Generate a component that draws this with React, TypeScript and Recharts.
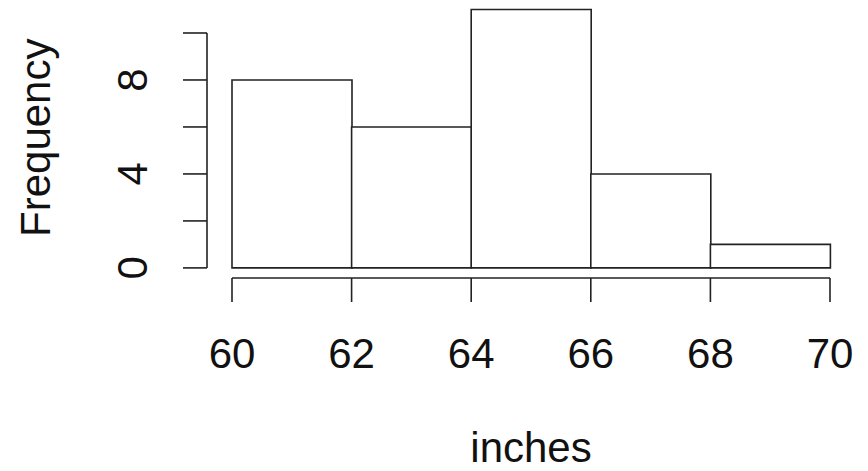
import React from 'react';
import { ComposedChart, Bar, XAxis, YAxis, ReferenceLine } from 'recharts';

const binLabels = ['60-62', '62-64', '64-66', '66-68', '68-70'];
const binStarts = [60, 62, 64, 66, 68];
const frequencies = [8, 6, 11, 4, 1];
const xTicks = [60, 62, 64, 66, 68, 70];
const yTicks = [0, 2, 4, 6, 8, 10];
const yTickLabels = ['0', '', '4', '', '8', ''];
const xTitle = 'inches';
const yTitle = 'Frequency';

const data = binLabels.map((bin, i) => ({ bin, start: binStarts[i], count: frequencies[i] }));

const FONT = '"Liberation Sans", Arial, Helvetica, sans-serif';
const INK = '#222';
const TEXT = '#111';
const FS = 42;
// R-style detached y axis line sits a little left of the first bin edge
const Y_AXIS_LINE_X = 59.582;

const YTick = (props: any) => {
  const { x, y, payload } = props;
  const label = yTickLabels[yTicks.indexOf(payload.value)];
  return (
    <g>
      <line x1={x - 49} x2={x - 25} y1={y} y2={y} stroke={INK} strokeWidth={1.6} />
      {label ? (
        <text
          transform={`translate(${x - 85.5},${y}) rotate(-90)`}
          textAnchor="middle"
          fontSize={FS}
          fontFamily={FONT}
          fill={TEXT}
        >
          {label}
        </text>
      ) : null}
    </g>
  );
};

const XTitle = (props: any) => {
  const vb = props.viewBox || {};
  return (
    <text
      x={vb.x + vb.width / 2}
      y={vb.y + vb.height - 9}
      textAnchor="middle"
      fontSize={FS}
      fontFamily={FONT}
      fill={TEXT}
    >
      {xTitle}
    </text>
  );
};

const YTitle = (props: any) => {
  const vb = props.viewBox || {};
  return (
    <text
      transform={`translate(${vb.x + 50},${vb.y + vb.height / 2 - 6}) rotate(-90)`}
      textAnchor="middle"
      fontSize={FS}
      fontFamily={FONT}
      fill={TEXT}
    >
      {yTitle}
    </text>
  );
};

export default function App() {
  return (
    <div style={{ position: 'absolute', left: 0, top: 0, width: 868, height: 471, background: '#fff' }}>
      <ComposedChart
        width={868}
        height={471}
        data={data}
        margin={{ top: 9.5, right: 38, bottom: 0, left: 0 }}
        barCategoryGap={0}
        barGap={0}
      >
        <XAxis xAxisId="cat" dataKey="bin" orientation="top" hide />
        <XAxis
          xAxisId="num"
          dataKey="start"
          type="number"
          domain={[60, 70]}
          ticks={xTicks}
          interval={0}
          height={193}
          tickSize={24}
          tickMargin={36}
          axisLine={{ stroke: INK, strokeWidth: 1.6 }}
          tickLine={{ stroke: INK, strokeWidth: 1.6 }}
          tick={{ fontSize: FS, fill: TEXT, fontFamily: FONT }}
          allowDataOverflow
          label={<XTitle />}
        />
        <YAxis
          yAxisId="y"
          type="number"
          domain={[-0.43, 11]}
          ticks={yTicks}
          interval={0}
          width={232}
          axisLine={false}
          tickLine={false}
          tickSize={0}
          tickMargin={0}
          tick={<YTick />}
          label={<YTitle />}
        />
        <ReferenceLine
          xAxisId="num"
          yAxisId="y"
          segment={[
            { x: Y_AXIS_LINE_X, y: yTicks[0] },
            { x: Y_AXIS_LINE_X, y: yTicks[yTicks.length - 1] },
          ]}
          ifOverflow="visible"
          stroke={INK}
          strokeWidth={1.6}
        />
        <Bar
          xAxisId="cat"
          yAxisId="y"
          dataKey="count"
          fill="#fff"
          stroke={INK}
          strokeWidth={1.6}
          isAnimationActive={false}
        />
      </ComposedChart>
    </div>
  );
}
